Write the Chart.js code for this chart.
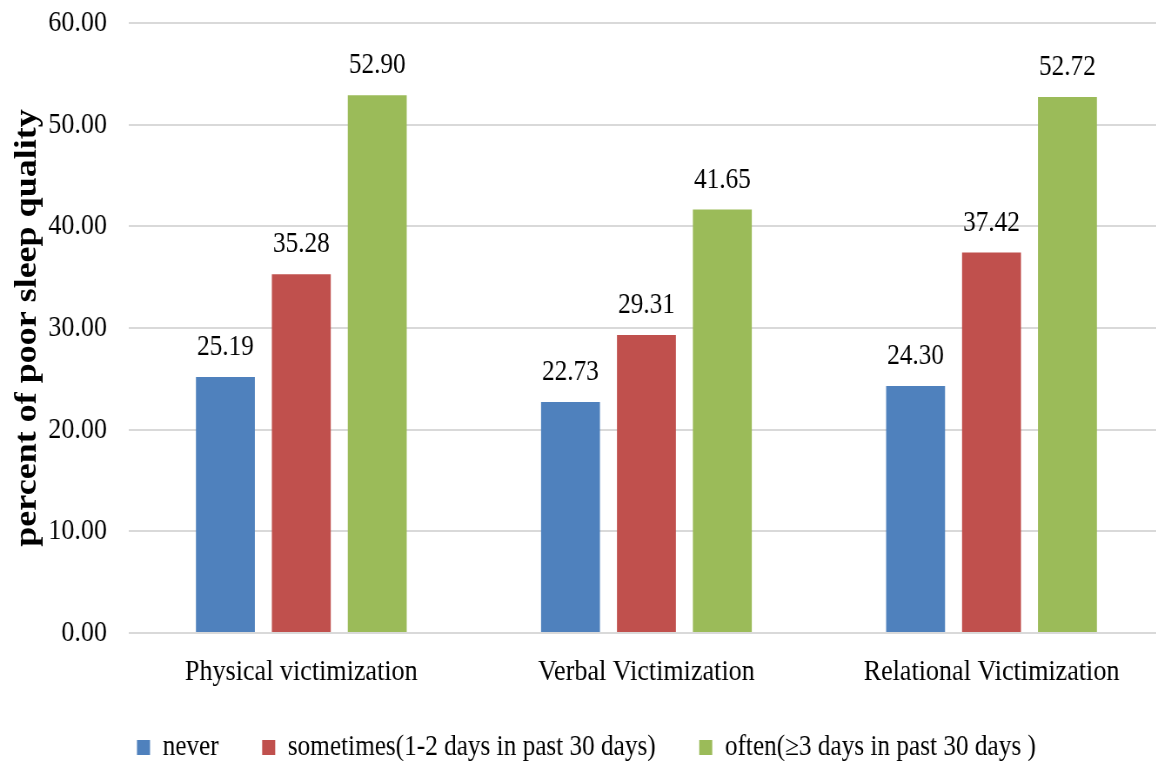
<!DOCTYPE html>
<html>
<head>
<meta charset="utf-8">
<script src="https://cdn.jsdelivr.net/npm/chart.js@4/dist/chart.umd.min.js"></script>
<style>
  html, body { margin: 0; padding: 0; background: #ffffff; overflow: hidden; width: 1156px; height: 761px; }
  /* the figure is drawn wide and narrowed horizontally, giving the condensed serif look */
  #wrap { position: absolute; left: 0; top: -20px; width: 1338px; height: 820px;
          transform: scaleX(0.87); transform-origin: 0 0; }
</style>
</head>
<body>
<div id="wrap"><canvas id="chart" width="1338" height="820"></canvas></div>
<script>
// Victimization type on the x axis
const categories = ['Physical victimization', 'Verbal Victimization', 'Relational Victimization'];

// Frequency groups
const seriesNames = ['never', 'sometimes(1-2 days in past 30 days)', 'often(\u22653 days in past 30 days )'];

// Percent of poor sleep quality per group
const neverValues = [25.19, 22.73, 24.30];
const sometimesValues = [35.28, 29.31, 37.42];
const oftenValues = [52.90, 41.65, 52.72];

const yTicks = [0, 10, 20, 30, 40, 50, 60];

const colors = ['#4F81BD', '#C0504D', '#9BBB59'];
const serif = "'Liberation Serif', 'Times New Roman', serif";

// Writes each bar's value above it, using the bar's position from the scale
const valueLabels = {
  id: 'valueLabels',
  afterDatasetsDraw(chart) {
    const ctx = chart.ctx;
    ctx.save();
    ctx.font = '29px ' + serif;
    ctx.fillStyle = '#000000';
    ctx.textAlign = 'center';
    ctx.textBaseline = 'alphabetic';
    chart.data.datasets.forEach((ds, i) => {
      chart.getDatasetMeta(i).data.forEach((bar, j) => {
        ctx.fillText(ds.data[j].toFixed(2), bar.x, bar.y - 22);
      });
    });
    ctx.restore();
  }
};

// The legend's label padding sets the wide gaps between items; pull the row up
// so it sits closer under the category labels than that padding would allow.
const legendLift = {
  id: 'legendLift',
  afterLayout(chart) {
    const lg = chart.legend;
    if (lg) { lg.top -= 28; lg.bottom -= 28; }
  }
};

new Chart(document.getElementById('chart'), {
  type: 'bar',
  data: {
    labels: categories,
    datasets: [
      { label: seriesNames[0], data: neverValues, backgroundColor: colors[0] },
      { label: seriesNames[1], data: sometimesValues, backgroundColor: colors[1] },
      { label: seriesNames[2], data: oftenValues, backgroundColor: colors[2] }
    ]
  },
  options: {
    responsive: false,
    animation: false,
    devicePixelRatio: 1,
    layout: { padding: { top: 0, right: 0, bottom: 0, left: 10 } },
    datasets: {
      bar: { categoryPercentage: 0.66, barPercentage: 0.776 }
    },
    scales: {
      x: {
        grid: { display: false, drawTicks: false },
        border: { display: false },
        ticks: {
          color: '#000000',
          padding: 21,
          font: { family: serif, size: 30 }
        }
      },
      y: {
        min: 0,
        max: 60,
        afterBuildTicks(scale) {
          scale.ticks = yTicks.map(v => ({ value: v }));
        },
        afterFit(scale) { scale.width = 138; },
        grid: { color: '#D9D9D9', lineWidth: 2, drawTicks: false },
        border: { display: false },
        ticks: {
          color: '#000000',
          padding: 25,
          font: { family: serif, size: 30 },
          callback: v => Number(v).toFixed(2)
        },
        title: {
          display: true,
          text: 'percent of poor sleep quality',
          color: '#000000',
          padding: { top: 0, bottom: 2 },
          font: { family: serif, size: 36, weight: 'bold' }
        }
      }
    },
    plugins: {
      legend: {
        position: 'bottom',
        labels: {
          color: '#000000',
          boxWidth: 15,
          boxHeight: 15,
          padding: 50,
          font: { family: serif, size: 29 }
        }
      },
      tooltip: { enabled: false }
    }
  },
  plugins: [valueLabels, legendLift]
});
</script>
</body>
</html>
